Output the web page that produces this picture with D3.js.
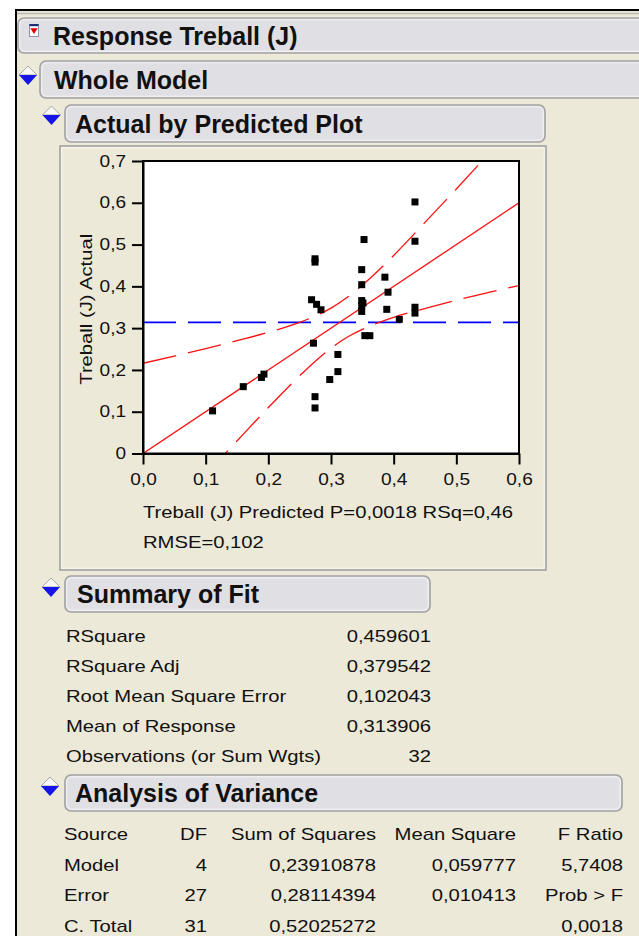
<!DOCTYPE html>
<html>
<head>
<meta charset="utf-8">
<script src="https://cdn.jsdelivr.net/npm/d3@7"></script>
<style>
  html, body { margin: 0; padding: 0; background: #fff; }
  svg { display: block; }
  text { font-family: "Liberation Sans", Arial, sans-serif; fill: #111; }
</style>
</head>
<body>
<div id="root"></div>
<script>
// ---- Data: actual vs predicted for Treball (J) ----
const predicted = [0.111, 0.160, 0.189, 0.193, 0.272, 0.2745, 0.2745, 0.2745, 0.2745, 0.269, 0.277,
                   0.284, 0.298, 0.311, 0.311, 0.3527, 0.349, 0.349, 0.349, 0.349, 0.349, 0.354,
                   0.362, 0.386, 0.391, 0.389, 0.409, 0.434, 0.434, 0.434, 0.434, 0.351];
const actual    = [0.102, 0.160, 0.182, 0.190, 0.264, 0.136, 0.109, 0.466, 0.458, 0.368, 0.357,
                   0.344, 0.177, 0.237, 0.196, 0.512, 0.440, 0.404, 0.366, 0.354, 0.340, 0.282,
                   0.282, 0.422, 0.386, 0.345, 0.321, 0.602, 0.508, 0.350, 0.336, 0.360];
const meanResponse = 0.313906;

// fit line (actual = predicted) and 95% confidence curves
const fitX = [0, 0.6];
const fitY = [0, 0.6];
const bandX     = [0, 0.05, 0.1, 0.15, 0.2, 0.25, 0.275, 0.3, 0.325, 0.35, 0.4, 0.45, 0.5, 0.55, 0.6];
const bandUpper = [0.216, 0.233, 0.251, 0.270, 0.290, 0.314, 0.329, 0.348, 0.3725, 0.403, 0.474, 0.553, 0.633, 0.715, 0.798];
const bandLower = [-0.216, -0.133, -0.051, 0.030, 0.110, 0.186, 0.221, 0.252, 0.2775, 0.297, 0.326, 0.347, 0.367, 0.385, 0.402];

const xTickValues = [0, 0.1, 0.2, 0.3, 0.4, 0.5, 0.6];
const xTickLabels = ["0,0", "0,1", "0,2", "0,3", "0,4", "0,5", "0,6"];
const yTickValues = [0, 0.1, 0.2, 0.3, 0.4, 0.5, 0.6, 0.7];
const yTickLabels = ["0", "0,1", "0,2", "0,3", "0,4", "0,5", "0,6", "0,7"];

const yTitle = "Treball (J) Actual";
const xTitle1 = "Treball (J) Predicted P=0,0018 RSq=0,46";
const xTitle2 = "RMSE=0,102";

const summaryLabels = ["RSquare", "RSquare Adj", "Root Mean Square Error", "Mean of Response", "Observations (or Sum Wgts)"];
const summaryValues = ["0,459601", "0,379542", "0,102043", "0,313906", "32"];

const anovaColumns = ["Source", "DF", "Sum of Squares", "Mean Square", "F Ratio"];
const anovaSource = ["Model", "Error", "C. Total"];
const anovaDF = ["4", "27", "31"];
const anovaSS = ["0,23910878", "0,28114394", "0,52025272"];
const anovaMS = ["0,059777", "0,010413", ""];
const anovaF = ["5,7408", "Prob > F", "0,0018"];

// ---- Drawing ----
const W = 639, H = 936;
const BEIGE = "#ECE9D8", HEAD = "#E0DFE4", EDGE = "#A2A2A2";
const SX = 1.19; // horizontal stretch of report text

const svg = d3.select("#root").append("svg").attr("width", W).attr("height", H);

svg.append("rect").attr("width", W).attr("height", H).attr("fill", "#fff");
svg.append("rect").attr("x", 17).attr("y", 11).attr("width", W - 17).attr("height", H - 11).attr("fill", BEIGE);
svg.append("line").attr("x1", 15).attr("x2", W).attr("y1", 10).attr("y2", 10).attr("stroke", "#000").attr("stroke-width", 2);
svg.append("line").attr("x1", 17).attr("x2", W).attr("y1", 13.5).attr("y2", 13.5).attr("stroke", "#B8B8B8").attr("stroke-width", 1.5);
svg.append("line").attr("x1", 16).attr("x2", 16).attr("y1", 9).attr("y2", H).attr("stroke", "#000").attr("stroke-width", 2);

function label(g, x, y, s, o = {}) {
  const sx = o.sx ?? SX;
  return g.append("text")
    .attr("transform", `translate(${x},${y}) scale(${sx},1)`)
    .attr("text-anchor", o.anchor || "start")
    .style("font-size", (o.size || 17) + "px")
    .style("font-weight", o.weight || "normal")
    .text(s);
}

function headerBox(x, y, w, h, title, tx) {
  svg.append("rect").attr("x", x).attr("y", y).attr("width", w).attr("height", h)
    .attr("rx", 6).attr("fill", HEAD).attr("stroke", EDGE).attr("stroke-width", 1.6);
  svg.append("rect").attr("x", x + 1.8).attr("y", y + 1.8).attr("width", w - 3.6).attr("height", h - 3.6)
    .attr("rx", 5).attr("fill", "none").attr("stroke", "#F6F6F8").attr("stroke-width", 1);
  label(svg, tx, y + h / 2 + 9, title, { size: 25, weight: "bold", sx: 1 });
}

function disclosure(cx, top) {
  svg.append("path")
    .attr("d", `M${cx - 9},${top} L${cx},${top - 9} L${cx + 9},${top} Z`)
    .attr("fill", "#F7F7F7").attr("stroke", "#A8A8A8").attr("stroke-width", 1);
  svg.append("path")
    .attr("d", `M${cx - 9},${top} L${cx + 9},${top} L${cx},${top + 10} Z`)
    .attr("fill", "#1414E6");
}

// Report headers
headerBox(18, 18, 660, 35, "Response Treball (J)", 53);
headerBox(40, 61, 640, 37, "Whole Model", 54);
headerBox(65, 105, 480, 37, "Actual by Predicted Plot", 75);

// red menu icon of the response header
svg.append("rect").attr("x", 29.5).attr("y", 24.5).attr("width", 9).attr("height", 12)
  .attr("fill", "#fff").attr("stroke", "#8A94B0").attr("stroke-width", 1);
svg.append("rect").attr("x", 29.5).attr("y", 24).attr("width", 9).attr("height", 2.2).attr("fill", "#1C2C78");
svg.append("path").attr("d", "M30.3,28.2 L37.7,28.2 L34,34 Z").attr("fill", "#E00000");

disclosure(28, 75);
disclosure(51.5, 115);

// Plot panel
svg.append("rect").attr("x", 60).attr("y", 146).attr("width", 486).attr("height", 424)
  .attr("fill", BEIGE).attr("stroke", EDGE).attr("stroke-width", 1.6);
svg.append("rect").attr("x", 61.8).attr("y", 147.8).attr("width", 482.4).attr("height", 420.4)
  .attr("fill", "none").attr("stroke", "#F8F7F0").attr("stroke-width", 1);

const x = d3.scaleLinear().domain([0, 0.6]).range([143, 519]);
const y = d3.scaleLinear().domain([0, 0.7]).range([453.5, 161]);

const plot = svg.append("g");
plot.append("rect").attr("x", x(0)).attr("y", y(0.7)).attr("width", x(0.6) - x(0)).attr("height", y(0) - y(0.7))
  .attr("fill", "#fff");

svg.append("clipPath").attr("id", "plotClip").append("rect")
  .attr("x", x(0)).attr("y", y(0.7)).attr("width", x(0.6) - x(0)).attr("height", y(0) - y(0.7));
const inner = plot.append("g").attr("clip-path", "url(#plotClip)");

// mean of response
inner.append("line").attr("x1", x(0)).attr("x2", x(0.6))
  .attr("y1", y(meanResponse)).attr("y2", y(meanResponse))
  .attr("stroke", "#0000FF").attr("stroke-width", 1.6).attr("stroke-dasharray", "33,12");

// confidence curves
const bandLine = (vals) => d3.line().x((d, i) => x(bandX[i])).y((d) => y(d)).curve(d3.curveMonotoneX)(vals);
[bandUpper, bandLower].forEach(vals => {
  inner.append("path").attr("d", bandLine(vals)).attr("fill", "none")
    .attr("stroke", "#FF1010").attr("stroke-width", 1.3).attr("stroke-dasharray", "34,12");
});

// fit line
inner.append("path")
  .attr("d", d3.line().x((d, i) => x(fitX[i])).y(d => y(d))(fitY))
  .attr("fill", "none").attr("stroke", "#FF1010").attr("stroke-width", 1.3);

// points
inner.selectAll("rect.pt").data(predicted).join("rect").attr("class", "pt")
  .attr("x", d => x(d) - 3.5).attr("y", (d, i) => y(actual[i]) - 3.5)
  .attr("width", 7).attr("height", 7).attr("fill", "#000");

// frame
plot.append("rect").attr("x", x(0)).attr("y", y(0.7)).attr("width", x(0.6) - x(0)).attr("height", y(0) - y(0.7))
  .attr("fill", "none").attr("stroke", "#000").attr("stroke-width", 2);

function styleAxis(g, size) {
  g.select(".domain").attr("stroke", "#000").attr("stroke-width", 2);
  g.selectAll(".tick line").attr("stroke", "#000").attr("stroke-width", 2);
  g.selectAll(".tick text").each(function () {
    const t = d3.select(this);
    const xx = +(t.attr("x") || 0);
    t.attr("x", xx / SX).attr("transform", `scale(${SX},1)`)
      .style("font-size", size + "px").attr("fill", "#111")
      .style("font-family", '"Liberation Sans", Arial, sans-serif');
  });
}

const yAxis = plot.append("g").attr("transform", `translate(${x(0)},0)`)
  .call(d3.axisLeft(y).tickValues(yTickValues).tickFormat((d, i) => yTickLabels[i])
    .tickSize(11).tickPadding(6).tickSizeOuter(0));
styleAxis(yAxis, 16);

const xAxis = plot.append("g").attr("transform", `translate(0,${y(0)})`)
  .call(d3.axisBottom(x).tickValues(xTickValues).tickFormat((d, i) => xTickLabels[i])
    .tickSize(11).tickPadding(9).tickSizeOuter(0));
styleAxis(xAxis, 16);

// axis titles
svg.append("text")
  .attr("transform", `translate(92,${(y(0) + y(0.7)) / 2 + 2}) rotate(-90) scale(${SX},1)`)
  .attr("text-anchor", "middle").style("font-size", "17px").text(yTitle);
label(svg, 143, 518, xTitle1);
label(svg, 143, 548, xTitle2);

// Summary of Fit
headerBox(65, 576, 365, 36, "Summary of Fit", 77);
disclosure(51, 587);
summaryLabels.forEach((s, i) => {
  label(svg, 66, 642 + i * 30, s);
  label(svg, 431, 642 + i * 30, summaryValues[i], { anchor: "end" });
});

// Analysis of Variance
headerBox(65, 775, 557, 36, "Analysis of Variance", 75);
disclosure(50, 786);
const colRight = [null, 207, 376, 516, 623];
label(svg, 64, 840, anovaColumns[0]);
for (let c = 1; c < anovaColumns.length; c++) label(svg, colRight[c], 840, anovaColumns[c], { anchor: "end" });
anovaSource.forEach((s, i) => {
  const by = 871 + i * 30.3;
  label(svg, 64, by, s);
  label(svg, colRight[1], by, anovaDF[i], { anchor: "end" });
  label(svg, colRight[2], by, anovaSS[i], { anchor: "end" });
  if (anovaMS[i]) label(svg, colRight[3], by, anovaMS[i], { anchor: "end" });
  label(svg, colRight[4], by, anovaF[i], { anchor: "end" });
});
</script>
</body>
</html>
